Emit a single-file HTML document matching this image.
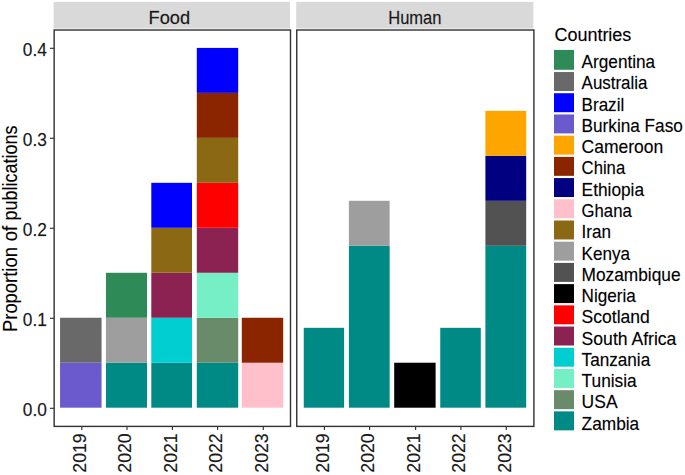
<!DOCTYPE html>
<html><head><meta charset="utf-8"><style>
html,body{margin:0;padding:0;background:#fff;width:685px;height:475px;overflow:hidden;}
svg{display:block;}
text{font-family:"Liberation Sans",sans-serif;stroke:#000;stroke-width:0.25px;stroke-opacity:0.6;}
</style></head><body>
<svg width="685" height="475" viewBox="0 0 685 475">
<rect x="0" y="0" width="685" height="475" fill="#fff"/>
<rect x="53.60" y="1.90" width="236.35" height="26.60" fill="#D9D9D9"/>
<text transform="translate(148.50,23.60) scale(1,1.05)" font-size="17.3" text-anchor="start" fill="#1A1A1A" textLength="41.6" lengthAdjust="spacingAndGlyphs">Food</text>
<rect x="60.06" y="362.72" width="41.50" height="44.98" fill="#6A5ACD"/>
<rect x="60.06" y="317.75" width="41.50" height="44.97" fill="#696969"/>
<line x1="81.80" y1="426.40" x2="81.80" y2="430.00" stroke="#333333" stroke-width="1.15"/>
<text transform="translate(86.20,433.30) rotate(-90) scale(1,1.05)" font-size="17.3" text-anchor="end" fill="#1A1A1A" textLength="39.4" lengthAdjust="spacingAndGlyphs">2019</text>
<rect x="105.95" y="362.72" width="41.05" height="44.98" fill="#008A86"/>
<rect x="105.95" y="317.75" width="41.05" height="44.97" fill="#9E9E9E"/>
<rect x="105.95" y="272.77" width="41.05" height="44.98" fill="#2E8B57"/>
<line x1="127.00" y1="426.40" x2="127.00" y2="430.00" stroke="#333333" stroke-width="1.15"/>
<text transform="translate(131.40,433.30) rotate(-90) scale(1,1.05)" font-size="17.3" text-anchor="end" fill="#1A1A1A" textLength="39.4" lengthAdjust="spacingAndGlyphs">2020</text>
<rect x="151.30" y="362.72" width="40.70" height="44.98" fill="#008A86"/>
<rect x="151.30" y="317.75" width="40.70" height="44.97" fill="#00CED1"/>
<rect x="151.30" y="272.77" width="40.70" height="44.98" fill="#8B2252"/>
<rect x="151.30" y="227.80" width="40.70" height="44.97" fill="#8B6914"/>
<rect x="151.30" y="182.82" width="40.70" height="44.97" fill="#0000FF"/>
<line x1="172.40" y1="426.40" x2="172.40" y2="430.00" stroke="#333333" stroke-width="1.15"/>
<text transform="translate(176.80,433.30) rotate(-90) scale(1,1.05)" font-size="17.3" text-anchor="end" fill="#1A1A1A" textLength="39.4" lengthAdjust="spacingAndGlyphs">2021</text>
<rect x="196.80" y="362.72" width="41.40" height="44.98" fill="#008A86"/>
<rect x="196.80" y="317.75" width="41.40" height="44.97" fill="#698B69"/>
<rect x="196.80" y="272.77" width="41.40" height="44.98" fill="#76EEC6"/>
<rect x="196.80" y="227.80" width="41.40" height="44.97" fill="#8B2252"/>
<rect x="196.80" y="182.82" width="41.40" height="44.97" fill="#FF0000"/>
<rect x="196.80" y="137.85" width="41.40" height="44.97" fill="#8B6914"/>
<rect x="196.80" y="92.88" width="41.40" height="44.98" fill="#8B2500"/>
<rect x="196.80" y="47.90" width="41.40" height="44.97" fill="#0000FF"/>
<line x1="217.60" y1="426.40" x2="217.60" y2="430.00" stroke="#333333" stroke-width="1.15"/>
<text transform="translate(222.00,433.30) rotate(-90) scale(1,1.05)" font-size="17.3" text-anchor="end" fill="#1A1A1A" textLength="39.4" lengthAdjust="spacingAndGlyphs">2022</text>
<rect x="241.80" y="362.72" width="41.40" height="44.98" fill="#FFC0CB"/>
<rect x="241.80" y="317.75" width="41.40" height="44.97" fill="#8B2500"/>
<line x1="263.30" y1="426.40" x2="263.30" y2="430.00" stroke="#333333" stroke-width="1.15"/>
<text transform="translate(267.70,433.30) rotate(-90) scale(1,1.05)" font-size="17.3" text-anchor="end" fill="#1A1A1A" textLength="39.4" lengthAdjust="spacingAndGlyphs">2023</text>
<rect x="54.15" y="30.00" width="236.35" height="396.40" fill="none" stroke="#333333" stroke-width="1.42"/>
<rect x="296.20" y="1.90" width="237.15" height="26.60" fill="#D9D9D9"/>
<text transform="translate(388.20,23.60) scale(1,1.05)" font-size="17.3" text-anchor="start" fill="#1A1A1A" textLength="53.3" lengthAdjust="spacingAndGlyphs">Human</text>
<rect x="303.75" y="327.82" width="40.35" height="79.88" fill="#008A86"/>
<line x1="324.40" y1="426.40" x2="324.40" y2="430.00" stroke="#333333" stroke-width="1.15"/>
<text transform="translate(328.80,433.30) rotate(-90) scale(1,1.05)" font-size="17.3" text-anchor="end" fill="#1A1A1A" textLength="39.4" lengthAdjust="spacingAndGlyphs">2019</text>
<rect x="348.90" y="245.79" width="40.75" height="161.91" fill="#008A86"/>
<rect x="348.90" y="200.81" width="40.75" height="44.97" fill="#9E9E9E"/>
<line x1="369.60" y1="426.40" x2="369.60" y2="430.00" stroke="#333333" stroke-width="1.15"/>
<text transform="translate(374.00,433.30) rotate(-90) scale(1,1.05)" font-size="17.3" text-anchor="end" fill="#1A1A1A" textLength="39.4" lengthAdjust="spacingAndGlyphs">2020</text>
<rect x="394.20" y="362.72" width="41.40" height="44.98" fill="#000000"/>
<line x1="415.60" y1="426.40" x2="415.60" y2="430.00" stroke="#333333" stroke-width="1.15"/>
<text transform="translate(420.00,433.30) rotate(-90) scale(1,1.05)" font-size="17.3" text-anchor="end" fill="#1A1A1A" textLength="39.4" lengthAdjust="spacingAndGlyphs">2021</text>
<rect x="440.25" y="327.82" width="40.55" height="79.88" fill="#008A86"/>
<line x1="460.90" y1="426.40" x2="460.90" y2="430.00" stroke="#333333" stroke-width="1.15"/>
<text transform="translate(465.30,433.30) rotate(-90) scale(1,1.05)" font-size="17.3" text-anchor="end" fill="#1A1A1A" textLength="39.4" lengthAdjust="spacingAndGlyphs">2022</text>
<rect x="485.40" y="245.79" width="40.80" height="161.91" fill="#008A86"/>
<rect x="485.40" y="200.81" width="40.80" height="44.97" fill="#525252"/>
<rect x="485.40" y="155.84" width="40.80" height="44.97" fill="#000080"/>
<rect x="485.40" y="110.87" width="40.80" height="44.97" fill="#FFA500"/>
<line x1="506.30" y1="426.40" x2="506.30" y2="430.00" stroke="#333333" stroke-width="1.15"/>
<text transform="translate(510.70,433.30) rotate(-90) scale(1,1.05)" font-size="17.3" text-anchor="end" fill="#1A1A1A" textLength="39.4" lengthAdjust="spacingAndGlyphs">2023</text>
<rect x="296.75" y="30.00" width="237.15" height="396.40" fill="none" stroke="#333333" stroke-width="1.42"/>
<line x1="49.95" y1="408.30" x2="54.15" y2="408.30" stroke="#333333" stroke-width="1.15"/>
<text transform="translate(46.80,415.90) scale(1,1.05)" font-size="17.3" text-anchor="end" fill="#1A1A1A">0.0</text>
<line x1="49.95" y1="318.30" x2="54.15" y2="318.30" stroke="#333333" stroke-width="1.15"/>
<text transform="translate(46.80,325.90) scale(1,1.05)" font-size="17.3" text-anchor="end" fill="#1A1A1A">0.1</text>
<line x1="49.95" y1="228.30" x2="54.15" y2="228.30" stroke="#333333" stroke-width="1.15"/>
<text transform="translate(46.80,235.90) scale(1,1.05)" font-size="17.3" text-anchor="end" fill="#1A1A1A">0.2</text>
<line x1="49.95" y1="138.30" x2="54.15" y2="138.30" stroke="#333333" stroke-width="1.15"/>
<text transform="translate(46.80,145.90) scale(1,1.05)" font-size="17.3" text-anchor="end" fill="#1A1A1A">0.3</text>
<line x1="49.95" y1="48.30" x2="54.15" y2="48.30" stroke="#333333" stroke-width="1.15"/>
<text transform="translate(46.80,55.90) scale(1,1.05)" font-size="17.3" text-anchor="end" fill="#1A1A1A">0.4</text>
<text transform="translate(16.80,332.00) rotate(-90) scale(1,1.05)" font-size="18.4" text-anchor="start" fill="#000">Proportion</text>
<text transform="translate(16.80,241.30) rotate(-90) scale(1,1.05)" font-size="18.4" text-anchor="start" fill="#000">of</text>
<text transform="translate(16.80,220.40) rotate(-90) scale(1,1.05)" font-size="18.4" text-anchor="start" fill="#000" textLength="95.0" lengthAdjust="spacingAndGlyphs">publications</text>
<text transform="translate(554.40,41.00) scale(1,1.05)" font-size="18" text-anchor="start" fill="#000">Countries</text>
<rect x="554.00" y="49.92" width="20.00" height="19.86" fill="#2E8B57"/>
<text transform="translate(581.60,68.10) scale(1,1.05)" font-size="17.3" text-anchor="start" fill="#000" textLength="73.59" lengthAdjust="spacingAndGlyphs">Argentina</text>
<rect x="554.00" y="72.03" width="20.00" height="18.96" fill="#696969"/>
<text transform="translate(581.60,89.37) scale(1,1.05)" font-size="17.3" text-anchor="start" fill="#000" textLength="65.84" lengthAdjust="spacingAndGlyphs">Australia</text>
<rect x="554.00" y="93.24" width="20.00" height="18.96" fill="#0000FF"/>
<text transform="translate(581.60,110.64) scale(1,1.05)" font-size="17.3" text-anchor="start" fill="#000" textLength="42.62" lengthAdjust="spacingAndGlyphs">Brazil</text>
<rect x="554.00" y="114.45" width="20.00" height="18.96" fill="#6A5ACD"/>
<text transform="translate(581.60,131.91) scale(1,1.05)" font-size="17.3" text-anchor="start" fill="#000" textLength="101.23" lengthAdjust="spacingAndGlyphs">Burkina Faso</text>
<rect x="554.00" y="135.66" width="20.00" height="18.96" fill="#FFA500"/>
<text transform="translate(581.60,153.18) scale(1,1.05)" font-size="17.3" text-anchor="start" fill="#000" textLength="81.69" lengthAdjust="spacingAndGlyphs">Cameroon</text>
<rect x="554.00" y="156.87" width="20.00" height="18.96" fill="#8B2500"/>
<text transform="translate(581.60,174.45) scale(1,1.05)" font-size="17.3" text-anchor="start" fill="#000" textLength="43.55" lengthAdjust="spacingAndGlyphs">China</text>
<rect x="554.00" y="178.08" width="20.00" height="18.96" fill="#000080"/>
<text transform="translate(581.60,195.72) scale(1,1.05)" font-size="17.3" text-anchor="start" fill="#000" textLength="62.47" lengthAdjust="spacingAndGlyphs">Ethiopia</text>
<rect x="554.00" y="199.29" width="20.00" height="18.96" fill="#FFC0CB"/>
<text transform="translate(581.60,216.99) scale(1,1.05)" font-size="17.3" text-anchor="start" fill="#000" textLength="50.09" lengthAdjust="spacingAndGlyphs">Ghana</text>
<rect x="554.00" y="220.50" width="20.00" height="18.96" fill="#8B6914"/>
<text transform="translate(581.60,238.26) scale(1,1.05)" font-size="17.3" text-anchor="start" fill="#000" textLength="29.39" lengthAdjust="spacingAndGlyphs">Iran</text>
<rect x="554.00" y="241.71" width="20.00" height="18.96" fill="#9E9E9E"/>
<text transform="translate(581.60,259.53) scale(1,1.05)" font-size="17.3" text-anchor="start" fill="#000" textLength="48.41" lengthAdjust="spacingAndGlyphs">Kenya</text>
<rect x="554.00" y="262.92" width="20.00" height="18.96" fill="#525252"/>
<text transform="translate(581.60,280.80) scale(1,1.05)" font-size="17.3" text-anchor="start" fill="#000" textLength="98.95" lengthAdjust="spacingAndGlyphs">Mozambique</text>
<rect x="554.00" y="284.13" width="20.00" height="18.96" fill="#000000"/>
<text transform="translate(581.60,302.07) scale(1,1.05)" font-size="17.3" text-anchor="start" fill="#000" textLength="54.16" lengthAdjust="spacingAndGlyphs">Nigeria</text>
<rect x="554.00" y="305.34" width="20.00" height="18.96" fill="#FF0000"/>
<text transform="translate(581.60,323.34) scale(1,1.05)" font-size="17.3" text-anchor="start" fill="#000" textLength="68.27" lengthAdjust="spacingAndGlyphs">Scotland</text>
<rect x="554.00" y="326.55" width="20.00" height="18.96" fill="#8B2252"/>
<text transform="translate(581.60,344.61) scale(1,1.05)" font-size="17.3" text-anchor="start" fill="#000" textLength="94.79" lengthAdjust="spacingAndGlyphs">South Africa</text>
<rect x="554.00" y="347.76" width="20.00" height="18.96" fill="#00CED1"/>
<text transform="translate(581.60,365.88) scale(1,1.05)" font-size="17.3" text-anchor="start" fill="#000" textLength="68.59" lengthAdjust="spacingAndGlyphs">Tanzania</text>
<rect x="554.00" y="368.97" width="20.00" height="18.96" fill="#76EEC6"/>
<text transform="translate(581.60,387.15) scale(1,1.05)" font-size="17.3" text-anchor="start" fill="#000" textLength="55.08" lengthAdjust="spacingAndGlyphs">Tunisia</text>
<rect x="554.00" y="390.18" width="20.00" height="18.96" fill="#698B69"/>
<text transform="translate(581.60,408.42) scale(1,1.05)" font-size="17.3" text-anchor="start" fill="#000" textLength="35.94" lengthAdjust="spacingAndGlyphs">USA</text>
<rect x="554.00" y="411.39" width="20.00" height="18.96" fill="#008A86"/>
<text transform="translate(581.60,429.69) scale(1,1.05)" font-size="17.3" text-anchor="start" fill="#000" textLength="57.63" lengthAdjust="spacingAndGlyphs">Zambia</text>
</svg></body></html>
